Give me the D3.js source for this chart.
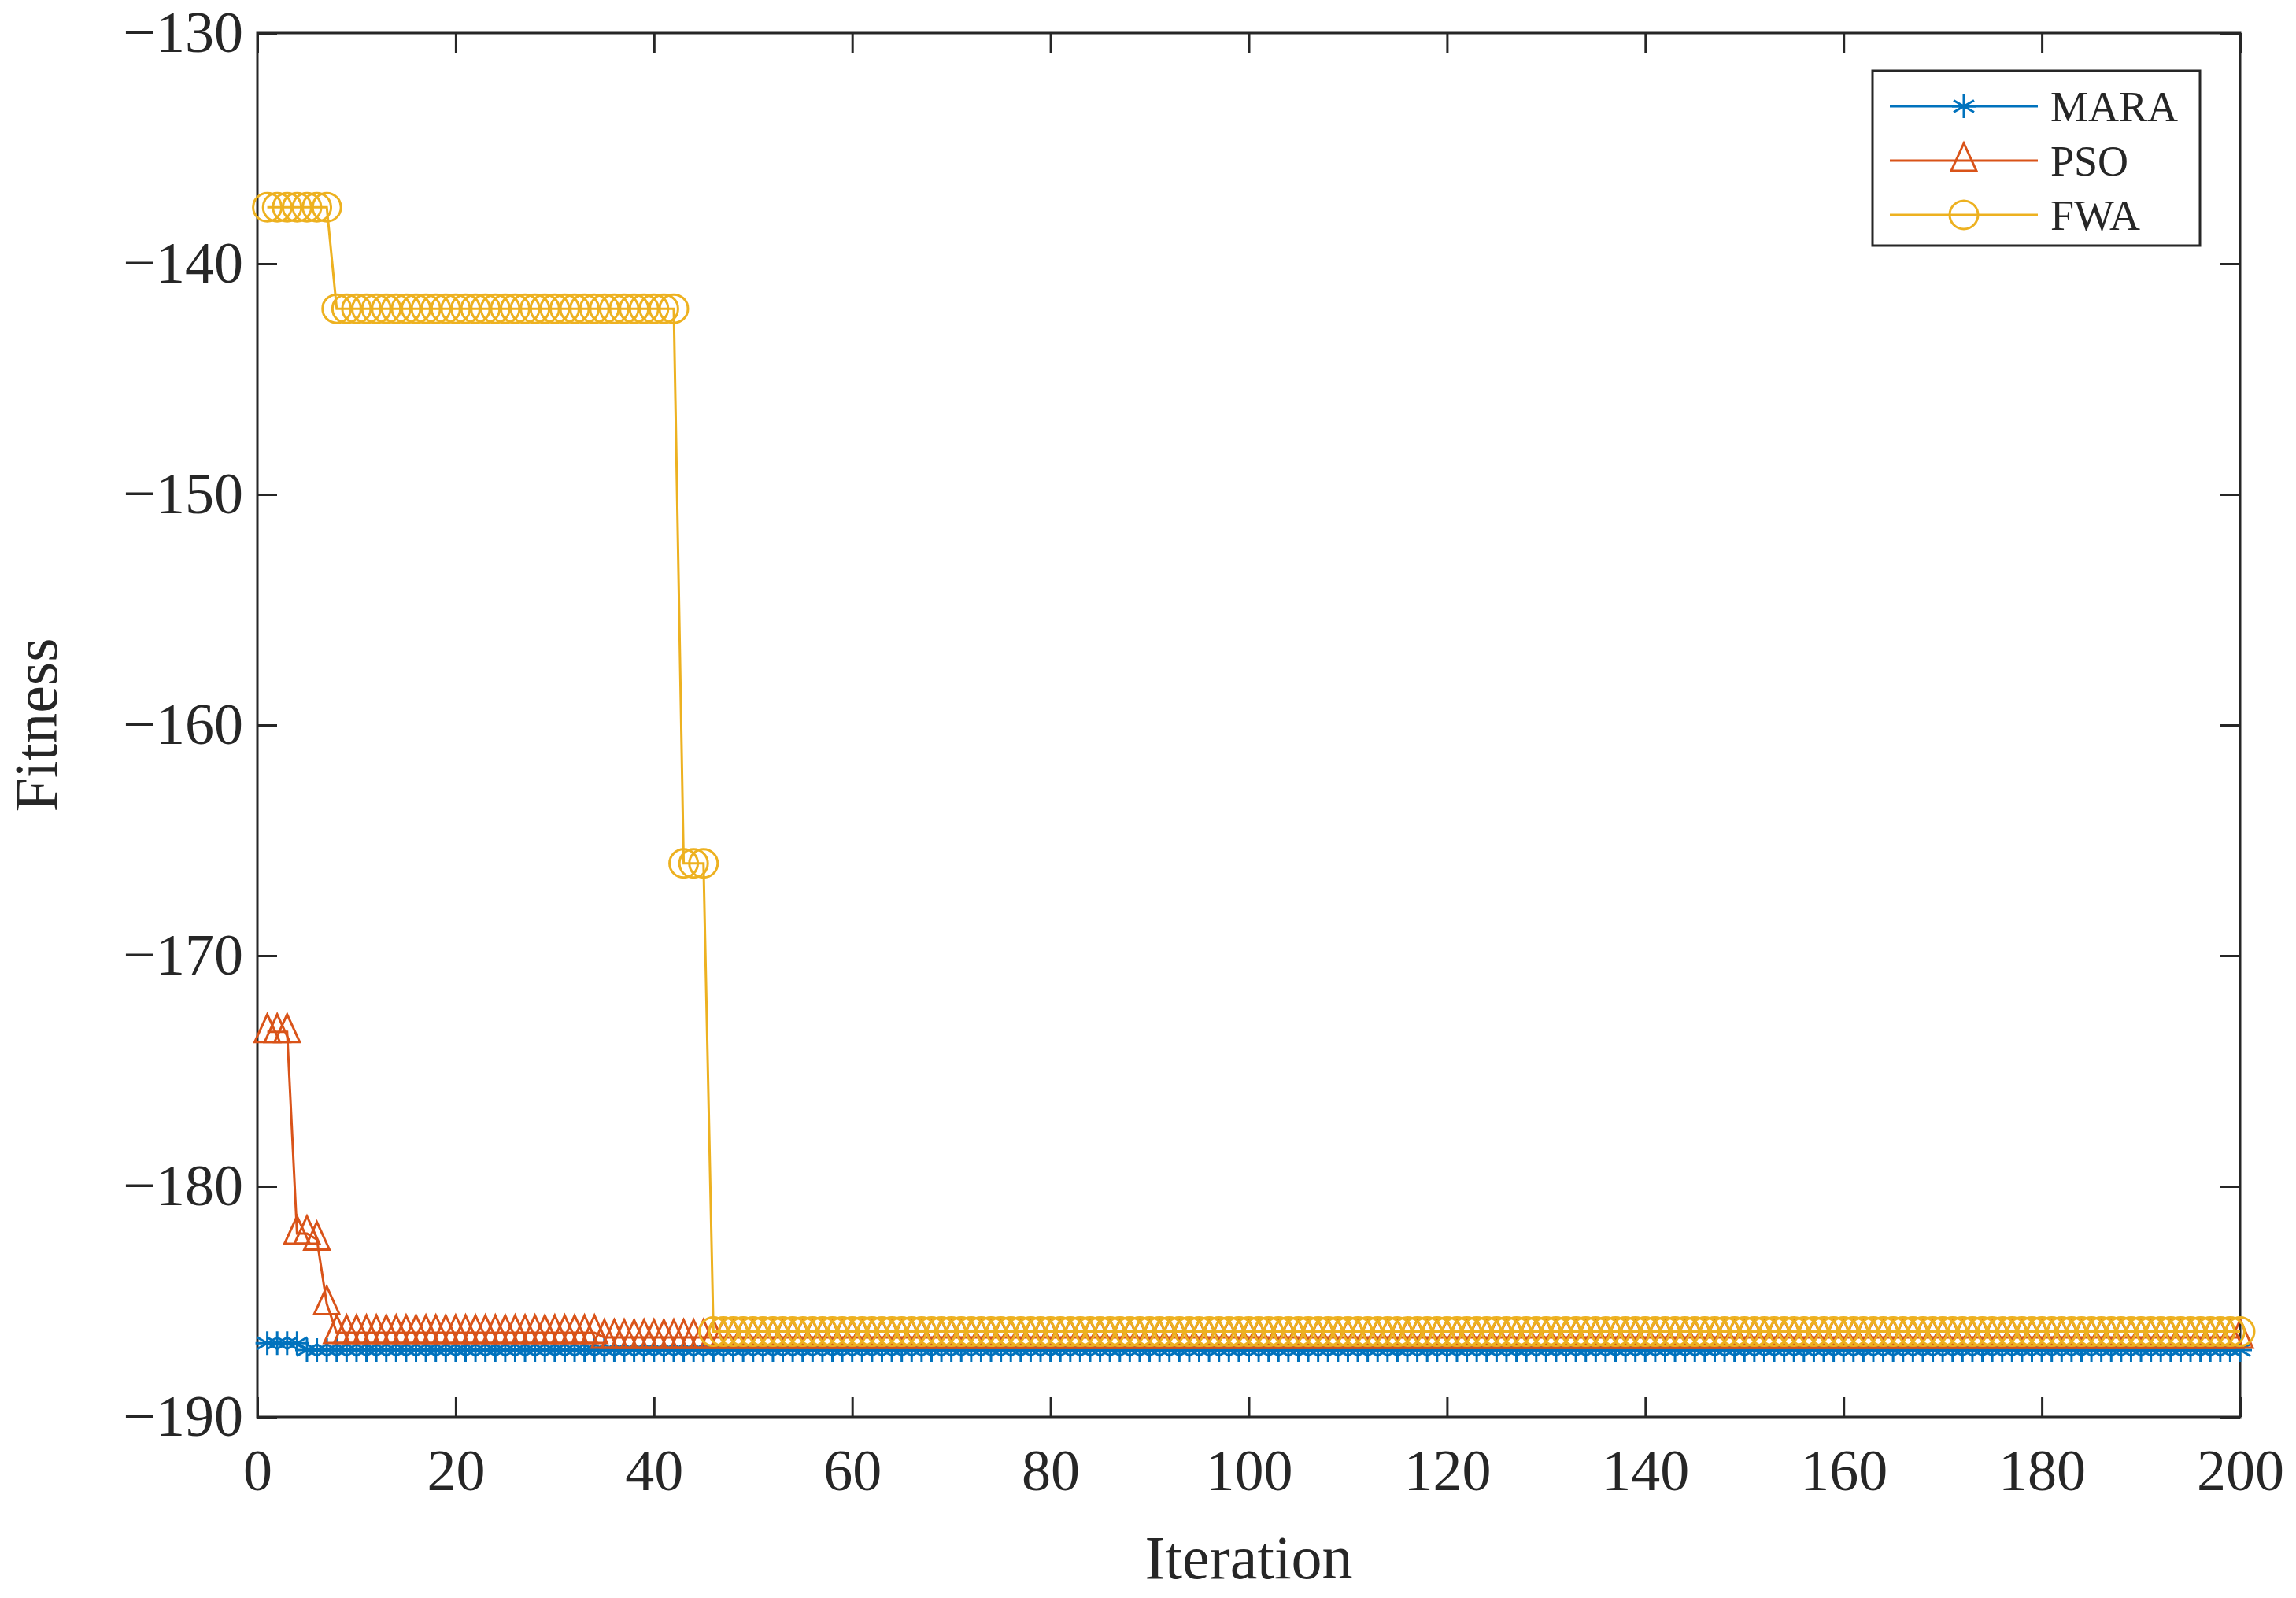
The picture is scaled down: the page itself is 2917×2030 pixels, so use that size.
<!DOCTYPE html>
<html>
<head>
<meta charset="utf-8">
<script src="https://cdn.jsdelivr.net/npm/d3@7"></script>
<style>
  body { margin: 0; background: #fff; }
  text { font-family: "Liberation Serif", "Times New Roman", serif; fill: #262626; }
</style>
</head>
<body>
<svg id="chart" width="2917" height="2030"></svg>
<script>
// step runs: [firstIteration, lastIteration, fitness]
const maraRuns = [[1, 4, -186.8], [5, 200, -187.1]];
const psoRuns = [[1, 3, -173.3], [4, 5, -182.05], [6, 6, -182.3], [7, 7, -185.1], [8, 34, -186.35], [35, 200, -186.55]];
const fwaRuns = [[1, 7, -137.55], [8, 42, -141.95], [43, 45, -166.0], [46, 200, -186.3]];
const seriesNames = ['MARA', 'PSO', 'FWA'];
const seriesColors = ['#0072BD', '#D95319', '#EDB120'];
const xTicks = [0, 20, 40, 60, 80, 100, 120, 140, 160, 180, 200];
const yTicks = [-190, -180, -170, -160, -150, -140, -130];

const expand = runs => runs.flatMap(([a, b, v]) => d3.range(a, b + 1).map(i => ({ x: i, y: v })));
const series = [maraRuns, psoRuns, fwaRuns].map(expand);

const margin = { left: 327, right: 71, top: 42, bottom: 230 };
const width = 2917, height = 2030;
const innerW = width - margin.left - margin.right;
const innerH = height - margin.top - margin.bottom;

const svg = d3.select('#chart');
const g = svg.append('g').attr('transform', `translate(${margin.left},${margin.top})`);

const x = d3.scaleLinear().domain([0, 200]).range([0, innerW]);
const y = d3.scaleLinear().domain([-190, -130]).range([innerH, 0]);

const tickLen = 25;
const fmt = d => d < 0 ? '\u2212' + Math.abs(d) : String(d);

// axes, ticks inward on all four sides
const styleAxis = sel => {
  sel.select('.domain').remove();
  sel.selectAll('line').attr('stroke', '#262626').attr('stroke-width', 3);
  sel.selectAll('text').attr('font-size', 74).attr('fill', '#262626');
};
g.append('g').attr('transform', `translate(0,${innerH})`)
  .call(d3.axisBottom(x).tickValues(xTicks).tickSize(-tickLen).tickPadding(40).tickFormat(fmt))
  .call(styleAxis);
g.append('g').call(d3.axisTop(x).tickValues(xTicks).tickSize(-tickLen).tickFormat(''))
  .call(styleAxis);
g.append('g')
  .call(d3.axisLeft(y).tickValues(yTicks).tickSize(-tickLen).tickPadding(18).tickFormat(fmt))
  .call(styleAxis);
g.append('g').attr('transform', `translate(${innerW},0)`)
  .call(d3.axisRight(y).tickValues(yTicks).tickSize(-tickLen).tickFormat(''))
  .call(styleAxis);
g.append('rect').attr('width', innerW).attr('height', innerH)
  .attr('fill', 'none').attr('stroke', '#262626').attr('stroke-width', 3);

// axis labels
g.append('text').attr('x', innerW / 2).attr('y', innerH + 205)
  .attr('text-anchor', 'middle').attr('font-size', 78).text('Iteration');
g.append('text').attr('transform', `translate(${-255},${innerH / 2}) rotate(-90)`)
  .attr('text-anchor', 'middle').attr('font-size', 78).text('Fitness');

// markers
const drawMarker = (sel, type, color) => {
  if (type === 0) {
    const r = 15;
    const d = d3.range(3).map(k => {
      const a = k * Math.PI / 3 + Math.PI / 2;
      return `M${-r * Math.cos(a)},${-r * Math.sin(a)}L${r * Math.cos(a)},${r * Math.sin(a)}`;
    }).join('') + `M${-r},0L${r},0`;
    sel.append('path').attr('d', d).attr('stroke', color).attr('stroke-width', 3).attr('fill', 'none');
  } else if (type === 1) {
    sel.append('path').attr('d', 'M0,-22L16,13L-16,13Z')
      .attr('stroke', color).attr('stroke-width', 3).attr('fill', 'none');
  } else {
    sel.append('circle').attr('r', 18)
      .attr('stroke', color).attr('stroke-width', 3).attr('fill', 'none');
  }
};

const line = d3.line().x(d => x(d.x)).y(d => y(d.y));
series.forEach((data, i) => {
  const sg = g.append('g');
  sg.append('path').datum(data).attr('d', line)
    .attr('fill', 'none').attr('stroke', seriesColors[i]).attr('stroke-width', 3);
  sg.selectAll('g.m').data(data).enter().append('g')
    .attr('transform', d => `translate(${x(d.x)},${y(d.y)})`)
    .each(function () { drawMarker(d3.select(this), i, seriesColors[i]); });
});

// legend
const lg = svg.append('g').attr('transform', 'translate(2379,90)');
lg.append('rect').attr('width', 416).attr('height', 222)
  .attr('fill', '#fff').attr('stroke', '#262626').attr('stroke-width', 3);
seriesNames.forEach((name, i) => {
  const yy = 45 + i * 69;
  const row = lg.append('g').attr('transform', `translate(0,${yy})`);
  row.append('line').attr('x1', 22).attr('x2', 210).attr('stroke', seriesColors[i]).attr('stroke-width', 3);
  const m = row.append('g').attr('transform', 'translate(116,0)');
  drawMarker(m, i, seriesColors[i]);
  row.append('text').attr('x', 226).attr('y', 0).attr('dy', '0.35em')
    .attr('font-size', 54).text(name);
});
</script>
</body>
</html>
